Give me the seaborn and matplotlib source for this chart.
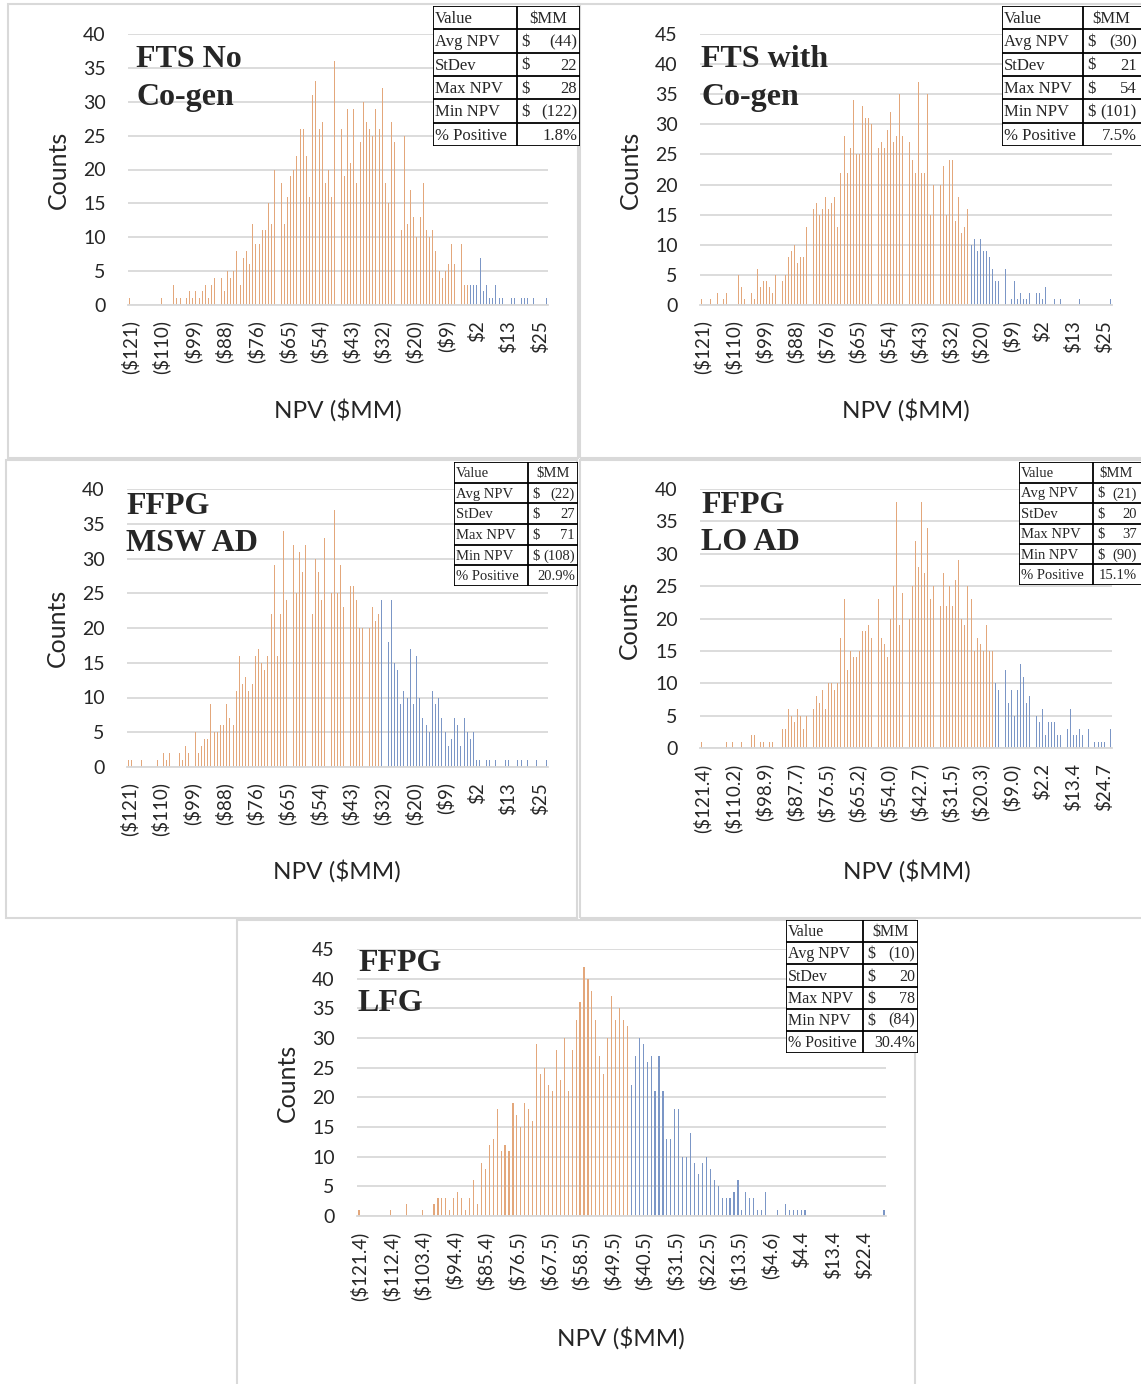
import numpy as np
import pandas as pd
import seaborn as sns
import matplotlib.pyplot as plt
from matplotlib.patches import Rectangle

# histogram counts per NPV bin
fts_no_cogen = [1, 0, 0, 0, 0, 0, 0, 0, 0, 0,
                1, 0, 0, 0, 3, 1, 1, 0, 1, 2,
                1, 2, 1, 2, 3, 1, 3, 4, 2, 4,
                2, 5, 4, 5, 8, 3, 7, 8, 6, 12,
                9, 9, 11, 11, 15, 12, 20, 17, 18, 12,
                16, 19, 20, 22, 26, 26, 22, 16, 31, 33,
                26, 27, 18, 20, 16, 36, 29, 26, 19, 29,
                21, 29, 18, 24, 30, 27, 26, 25, 29, 26,
                32, 18, 15, 27, 24, 20, 11, 25, 12, 17,
                13, 10, 13, 18, 11, 10, 11, 8, 5, 4,
                5, 6, 9, 6, 7, 9, 3, 3, 3, 3,
                3, 7, 2, 3, 1, 1, 3, 1, 1, 0,
                0, 1, 1, 1, 1, 1, 1, 0, 1, 0,
                0, 0, 1]
fts_with_cogen = [1, 0, 0, 1, 0, 2, 0, 1, 2, 0,
                  0, 0, 5, 3, 1, 0, 2, 1, 6, 3,
                  4, 4, 3, 2, 5, 5, 4, 5, 8, 9,
                  10, 7, 8, 8, 13, 11, 16, 17, 15, 16,
                  18, 16, 17, 18, 13, 22, 28, 22, 26, 34,
                  25, 25, 33, 31, 31, 30, 31, 26, 27, 26,
                  29, 32, 27, 28, 35, 28, 41, 27, 24, 22,
                  37, 22, 22, 35, 15, 20, 24, 20, 23, 15,
                  24, 24, 14, 18, 12, 13, 16, 10, 11, 9,
                  11, 9, 9, 8, 6, 4, 4, 5, 6, 0,
                  1, 4, 1, 2, 1, 1, 2, 2, 2, 2,
                  1, 3, 0, 0, 1, 0, 1, 0, 0, 0,
                  0, 0, 1, 0, 0, 0, 0, 0, 0, 0,
                  0, 0, 1]
ffpg_msw_ad = [1, 1, 0, 0, 1, 0, 0, 0, 0, 1,
               0, 2, 1, 2, 0, 0, 2, 1, 3, 2,
               0, 5, 2, 3, 4, 4, 9, 5, 5, 6,
               6, 9, 7, 6, 11, 16, 12, 13, 11, 12,
               16, 17, 15, 14, 16, 22, 29, 16, 22, 34,
               24, 22, 32, 25, 31, 28, 32, 31, 22, 30,
               28, 24, 33, 24, 25, 37, 25, 29, 23, 20,
               26, 26, 24, 20, 20, 22, 20, 23, 21, 22,
               24, 18, 18, 24, 15, 14, 9, 11, 10, 17,
               9, 16, 10, 7, 6, 5, 11, 9, 10, 7,
               5, 3, 4, 7, 6, 3, 7, 5, 4, 5,
               1, 1, 0, 1, 1, 0, 1, 0, 0, 1,
               1, 0, 0, 1, 1, 0, 1, 0, 0, 1,
               0, 0, 1]
ffpg_lo_ad = [1, 0, 0, 0, 0, 0, 0, 0, 1, 0,
              1, 0, 0, 1, 0, 0, 2, 2, 0, 1,
              1, 0, 1, 1, 0, 3, 3, 3, 6, 5,
              4, 6, 5, 3, 5, 5, 6, 8, 7, 9,
              6, 10, 10, 9, 10, 17, 23, 12, 15, 14,
              14, 15, 18, 18, 19, 17, 31, 23, 17, 16,
              14, 20, 25, 38, 19, 24, 21, 20, 25, 32,
              28, 38, 27, 34, 23, 25, 20, 22, 27, 22,
              25, 22, 26, 29, 20, 19, 25, 23, 15, 17,
              16, 15, 19, 15, 15, 10, 9, 18, 12, 7,
              9, 5, 9, 13, 11, 7, 8, 7, 5, 4,
              6, 2, 4, 4, 4, 2, 2, 2, 3, 6,
              2, 2, 3, 2, 0, 3, 0, 1, 1, 1,
              1, 0, 3]
ffpg_lfg = [1, 0, 0, 0, 0, 0, 0, 0, 1, 0,
            0, 0, 2, 0, 0, 0, 1, 0, 0, 2,
            3, 3, 3, 1, 3, 4, 3, 1, 3, 6,
            2, 9, 8, 12, 13, 18, 11, 12, 11, 19,
            17, 15, 19, 18, 16, 29, 24, 25, 22, 21,
            28, 23, 30, 21, 28, 33, 36, 42, 40, 38,
            33, 27, 24, 30, 37, 33, 35, 33, 32, 22,
            27, 30, 29, 26, 27, 21, 27, 21, 13, 13,
            18, 18, 10, 10, 14, 9, 7, 9, 10, 8,
            6, 5, 3, 3, 3, 4, 6, 1, 4, 3,
            3, 1, 1, 4, 0, 0, 1, 0, 2, 1,
            1, 1, 1, 1, 0, 0, 0, 0, 0, 0,
            0, 0, 0, 0, 0, 0, 0, 0, 0, 0,
            0, 0, 0, 1]

# first bin drawn in blue
blue_start = [108, 87, 80, 95, 69]

labels_a = ["($121)", "($110)", "($99)", "($88)", "($76)", "($65)", "($54)",
            "($43)", "($32)", "($20)", "($9)", "$2", "$13", "$25"]
labels_lo = ["($121.4)", "($110.2)", "($98.9)", "($87.7)", "($76.5)", "($65.2)",
             "($54.0)", "($42.7)", "($31.5)", "($20.3)", "($9.0)", "$2.2",
             "$13.4", "$24.7"]
labels_lfg = ["($121.4)", "($112.4)", "($103.4)", "($94.4)", "($85.4)", "($76.5)",
              "($67.5)", "($58.5)", "($49.5)", "($40.5)", "($31.5)", "($22.5)",
              "($13.5)", "($4.6)", "$4.4", "$13.4", "$22.4"]

titles = [("FTS No", "Co-gen"), ("FTS with", "Co-gen"), ("FFPG", "MSW AD"),
          ("FFPG", "LO AD"), ("FFPG", "LFG")]

avg_npv = ["(44)", "(30)", "(22)", "(21)", "(10)"]
stdev = ["22", "21", "27", "20", "20"]
max_npv = ["28", "54", "71", "37", "78"]
min_npv = ["(122)", "(101)", "(108)", "(90)", "(84)"]
pct_pos = ["1.8%", "7.5%", "20.9%", "15.1%", "30.4%"]

ORANGE = "#F4A46A"
BLUE = "#6F92D2"
GRID = "#d9d9d9"
W, H = 1141, 1384

sns.set_theme(style="white")
plt.rcParams["font.family"] = ["Lato", "DejaVu Sans"]

fig = plt.figure(figsize=(W / 100, H / 100), dpi=100)


def fx(x):
    return x / W


def fy(y):
    return 1 - y / H


# layout in pixels: frame box, plot area (left, right, top-of-ymax, baseline), etc.
panels = [
    dict(counts=fts_no_cogen, labels=labels_a, step=10, ymax=40,
         frame=(8, 4, 578, 458), plot=(128, 548, 34, 305), title_x=136, title_y=(67, 105),
         counts_lbl=(58, 170), npv_lbl=(338, 410), table=(433, 6, 580, 146, 517), tfs=12),
    dict(counts=fts_with_cogen, labels=labels_a, step=10, ymax=45,
         frame=(580, 4, 1150, 458), plot=(700, 1112, 34, 305), title_x=701, title_y=(67, 105),
         counts_lbl=(630, 170), npv_lbl=(906, 410), table=(1002, 6, 1146, 146, 1083), tfs=12),
    dict(counts=ffpg_msw_ad, labels=labels_a, step=10, ymax=40,
         frame=(6, 460, 577, 918), plot=(127, 548, 489, 767), title_x=126, title_y=(514, 551),
         counts_lbl=(57, 628), npv_lbl=(337, 871), table=(454, 462, 578, 586, 528), tfs=10.5),
    dict(counts=ffpg_lo_ad, labels=labels_lo, step=10, ymax=40,
         frame=(580, 460, 1150, 918), plot=(700, 1112, 489, 748), title_x=701, title_y=(513, 550),
         counts_lbl=(629, 620), npv_lbl=(907, 871), table=(1019, 462, 1146, 585, 1093), tfs=10.5),
    dict(counts=ffpg_lfg, labels=labels_lfg, step=8, ymax=45,
         frame=(237, 920, 915, 1390), plot=(357, 886, 949, 1216), title_x=358, title_y=(971, 1011),
         counts_lbl=(287, 1083), npv_lbl=(621, 1338), table=(786, 920, 918, 1053, 863), tfs=11.5),
]


def draw_table(box, i, fs):
    x0, y0, x1, y1, xs = box
    tax = fig.add_axes([fx(x0), fy(y1), (x1 - x0) / W, (y1 - y0) / H])
    tax.set_xlim(0, x1 - x0)
    tax.set_ylim(y1 - y0, 0)
    tax.axis("off")
    tax.add_patch(Rectangle((0, 0), x1 - x0, y1 - y0, facecolor="white",
                            edgecolor="black", linewidth=1.3))
    rh = (y1 - y0) / 6
    for r in range(1, 6):
        tax.plot([0, x1 - x0], [r * rh, r * rh], color="black", lw=1.3)
    tax.plot([xs - x0, xs - x0], [0, y1 - y0], color="black", lw=1.3)
    serif = ["Liberation Serif", "DejaVu Serif"]
    rows = [("Value", None, None), ("Avg NPV", "$", avg_npv[i]), ("StDev", "$", stdev[i]),
            ("Max NPV", "$", max_npv[i]), ("Min NPV", "$", min_npv[i]),
            ("% Positive", None, pct_pos[i])]
    c2 = xs - x0
    right = min(x1, W - 1) - x0 - 3
    for r, (name, cur, val) in enumerate(rows):
        yc = (r + 0.55) * rh
        tax.text(2, yc, name, fontsize=fs, family=serif, va="center", ha="left")
        if r == 0:
            tax.text((c2 + right + 3) / 2, yc, "$MM", fontsize=fs, family=serif,
                     va="center", ha="center")
            continue
        if cur:
            tax.text(c2 + 4, yc, cur, fontsize=fs, family=serif, va="center", ha="left")
        tax.text(right, yc, val, fontsize=fs, family=serif, va="center", ha="right")


for i, p in enumerate(panels):
    fl, ft, fr, fb = p["frame"]
    fig.add_artist(Rectangle((fx(fl), fy(fb)), (fr - fl) / W, (fb - ft) / H,
                             transform=fig.transFigure, fill=False, zorder=-5,
                             edgecolor=GRID, linewidth=1.5))

    l, r, t, b = p["plot"]
    ax = fig.add_axes([fx(l), fy(b), (r - l) / W, (b - t) / H])
    counts = p["counts"]
    n = len(counts)
    bins = np.arange(n)
    df = pd.DataFrame({"bin": bins, "count": counts,
                       "grp": np.where(bins >= blue_start[i], "pos", "neg")})
    sns.barplot(data=df, x="bin", y="count", hue="grp",
                palette={"neg": ORANGE, "pos": BLUE}, dodge=False, width=0.3,
                errorbar=None, legend=False, linewidth=0, ax=ax)
    ax.set_xlim(-0.5, n - 0.5)
    ax.set_ylim(0, p["ymax"])
    ax.set_yticks(range(0, p["ymax"] + 1, 5))
    ticks = list(range(0, p["step"] * len(p["labels"]), p["step"]))
    ax.set_xticks(ticks)
    ax.set_xticklabels(p["labels"], rotation=90, va="top", ha="center")
    ax.tick_params(axis="x", length=0, pad=11, labelsize=13.5)
    ax.tick_params(axis="y", length=0, pad=16, labelsize=14)
    ax.yaxis.grid(True, color=GRID, linewidth=1.3)
    ax.set_axisbelow(True)
    for s in ["top", "right", "left"]:
        ax.spines[s].set_visible(False)
    ax.spines["bottom"].set_color(GRID)
    ax.spines["bottom"].set_linewidth(1.3)
    ax.set_xlabel("")
    ax.set_ylabel("")
    ax.patch.set_alpha(0)

    cx, cy = p["counts_lbl"]
    fig.text(fx(cx), fy(cy), "Counts", rotation=90, fontsize=18, ha="center", va="center")
    nx, ny = p["npv_lbl"]
    fig.text(fx(nx), fy(ny), "NPV ($MM)", fontsize=17.5, ha="center", va="center")

    serif = ["Liberation Serif", "DejaVu Serif"]
    for line, by in zip(titles[i], p["title_y"]):
        fig.text(fx(p["title_x"]), fy(by), line, fontsize=23, fontweight="bold",
                 family=serif, ha="left", va="baseline")

    draw_table(p["table"], i, p["tfs"])

fig.savefig("out.png", dpi=100)
